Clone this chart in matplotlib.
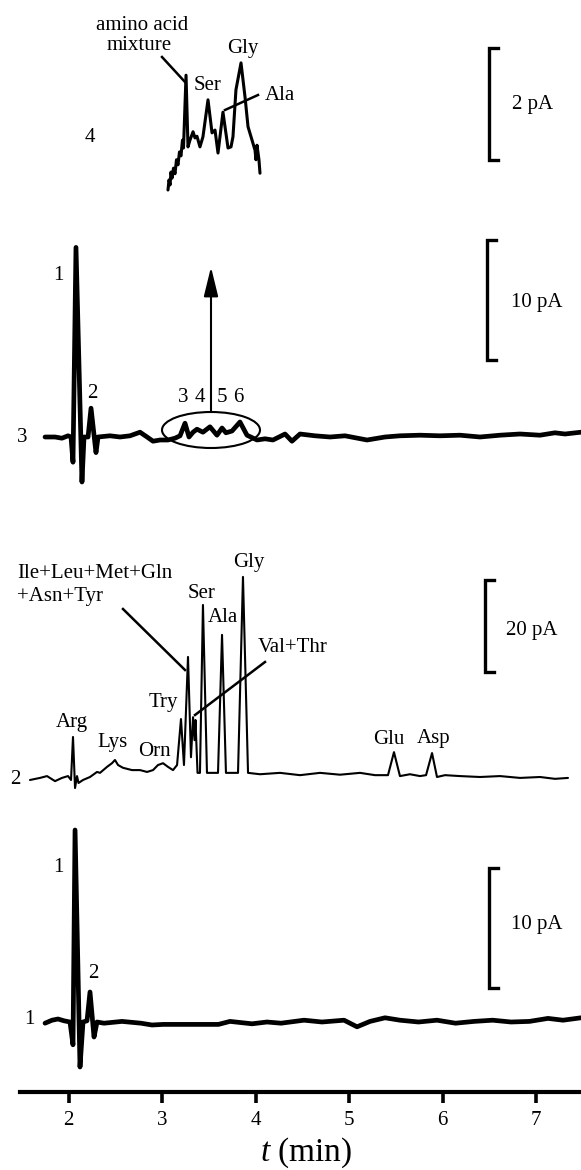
import matplotlib
matplotlib.use("Agg")
import matplotlib.pyplot as plt
from matplotlib.patches import Ellipse
import numpy as np

plt.rcParams['font.family'] = ['Liberation Serif', 'DejaVu Serif']
plt.rcParams['mathtext.fontset'] = 'custom'
plt.rcParams['mathtext.rm'] = 'Liberation Serif'
plt.rcParams['mathtext.it'] = 'Liberation Serif:italic'

# ---------------- data (time in min, current in pA) ----------------
trace1_t = [1.749, 1.824, 1.888, 1.952, 2.016, 2.048, 2.070, 2.123, 2.155, 2.198, 2.230,
            2.273, 2.305, 2.380, 2.572, 2.775, 2.893, 3.011, 3.604, 3.727, 3.963, 4.123,
            4.273, 4.519, 4.711, 4.947, 5.086, 5.225, 5.385, 5.545, 5.743, 5.941, 6.139,
            6.337, 6.536, 6.733, 6.930, 7.128, 7.289, 7.481]
trace1_i = [-0.1, 0.15, 0.25, 0.1, 0.0, -1.9, 16.0, -3.75, 0.0, 0.1, 2.5,
            -1.25, 0.0, -0.1, 0.05, -0.1, -0.25, -0.2, -0.2, 0.05, -0.15, 0.0,
            -0.1, 0.15, 0.0, 0.15, -0.4, 0.05, 0.35, 0.15, 0.0, 0.15, -0.1,
            0.05, 0.15, 0.0, 0.05, 0.3, 0.15, 0.35]

trace2_t = [1.588, 1.695, 1.770, 1.856, 1.930, 1.995, 2.027, 2.048, 2.070, 2.091, 2.107,
            2.155, 2.230, 2.305, 2.337, 2.412, 2.465, 2.497, 2.530, 2.583, 2.679, 2.765,
            2.840, 2.904, 2.957, 3.011, 3.064, 3.118, 3.161, 3.203, 3.235, 3.278, 3.310,
            3.332, 3.348, 3.358, 3.380, 3.406, 3.438, 3.481, 3.599, 3.642, 3.684, 3.813,
            3.866, 3.920, 4.048, 4.262, 4.476, 4.690, 4.904, 5.118, 5.278, 5.417, 5.481,
            5.545, 5.652, 5.759, 5.824, 5.888, 5.941, 6.027, 6.187, 6.401, 6.615, 6.829,
            7.043, 7.203, 7.342]
trace2_i = [-0.65, -0.2, 0.2, -0.9, -0.2, 0.2, -0.65, 8.7, -2.4, 0.2, -1.3,
            -0.65, 0.0, 1.1, 0.9, 2.2, 3.0, 3.7, 2.6, 2.0, 1.5, 1.5,
            1.1, 1.5, 2.6, 3.0, 2.2, 1.5, 2.6, 12.6, 2.6, 26.1, 4.3,
            13.0, 8.0, 12.4, 0.9, 0.9, 37.4, 0.9, 0.9, 30.9, 0.9, 0.9,
            43.5, 0.9, 0.6, 0.9, 0.4, 0.9, 0.5, 0.9, 0.4, 0.4, 5.4,
            0.2, 0.6, 0.2, 0.4, 5.2, 0.0, 0.4, 0.2, 0.0, 0.2, -0.2,
            0.0, -0.4, -0.2]

trace3_t = [1.749, 1.856, 1.930, 1.995, 2.027, 2.048, 2.080, 2.144, 2.166, 2.209, 2.241,
            2.294, 2.316, 2.444, 2.551, 2.658, 2.765, 2.840, 2.904, 2.979, 3.064, 3.139,
            3.193, 3.246, 3.289, 3.332, 3.374, 3.438, 3.513, 3.588, 3.642, 3.684, 3.749,
            3.834, 3.909, 4.016, 4.102, 4.187, 4.316, 4.390, 4.476, 4.636, 4.797, 4.957,
            5.193, 5.385, 5.545, 5.759, 5.973, 6.187, 6.401, 6.615, 6.829, 7.043, 7.203,
            7.310, 7.481]
trace3_i = [0.0, 0.0, -0.1, 0.1, 0.0, -2.1, 15.8, -3.75, 0.0, 0.0, 2.4,
            -1.3, 0.0, 0.1, 0.0, 0.1, 0.4, 0.0, -0.35, -0.25, -0.25, -0.1,
            0.1, 1.15, 0.0, 0.4, 0.65, 0.4, 0.85, 0.15, 0.75, 0.35, 0.5,
            1.25, 0.15, -0.25, -0.15, -0.25, 0.25, -0.35, 0.25, 0.1, 0.0, 0.1,
            -0.25, 0.0, 0.1, 0.15, 0.1, 0.15, 0.0, 0.15, 0.25, 0.15, 0.35,
            0.25, 0.4]

trace4_t = [3.064, 3.075, 3.086, 3.096, 3.107, 3.123, 3.139, 3.155, 3.171, 3.187, 3.203,
            3.219, 3.230, 3.257, 3.278, 3.299, 3.332, 3.353, 3.374, 3.406, 3.438, 3.492,
            3.535, 3.567, 3.599, 3.652, 3.706, 3.738, 3.759, 3.791, 3.845, 3.888, 3.920,
            3.963, 3.995, 4.005, 4.016, 4.037, 4.048]
trace4_i = [0.0, 0.18, 0.09, 0.32, 0.21, 0.39, 0.29, 0.54, 0.45, 0.68, 0.61,
            0.89, 0.75, 2.05, 0.77, 0.89, 1.04, 0.93, 0.96, 0.77, 0.95, 1.61,
            1.02, 1.07, 0.66, 1.39, 0.75, 0.77, 0.95, 1.79, 2.27, 1.66, 1.13,
            0.89, 0.71, 0.54, 0.80, 0.54, 0.30]

trace_names = ['1', '2', '3', '4']
scale_bar_pA = [10, 20, 10, 2]
x_ticks = [2, 3, 4, 5, 6, 7]

# ---------------- layout ----------------
W, H = 581, 1170
AX_BOTTOM = 1092


def px2t(px):
    return 2 + (px - 68.5) / 93.5


fig = plt.figure(figsize=(W / 100, H / 100), dpi=100)
ax = fig.add_axes([20 / W, (H - AX_BOTTOM) / H, (W - 20) / W, AX_BOTTOM / H])
ax.set_xlim(px2t(20), px2t(581))
ax.set_ylim(AX_BOTTOM, 0)
for s in ['left', 'right', 'top']:
    ax.spines[s].set_visible(False)
ax.spines['bottom'].set_linewidth(3.0)
ax.set_yticks([])
ax.set_xticks(x_ticks)
ax.set_xticklabels([str(v) for v in x_ticks])
ax.tick_params(axis='x', direction='out', length=8, width=2.6, labelsize=15, pad=6)

traces = [(trace1_t, trace1_i, 1022, 12.0, 3.4),
          (trace2_t, trace2_i, 777, 4.6, 1.5),
          (trace3_t, trace3_i, 437, 12.0, 3.4),
          (trace4_t, trace4_i, 190, 56.0, 2.2)]
for t, i, base, sc, lw in traces:
    ax.plot(t, base - sc * np.asarray(i), color='k', lw=lw,
            solid_joinstyle='round', solid_capstyle='round')

# scale bars
bars = [(489, 868), (485, 580), (487, 240), (489, 48)]
bar_label_pos = [(537, 925), (532, 630), (537, 303), (533, 105)]
for (bx, top), (lx, ly), val, (_, _, _, sc, _) in zip(bars, bar_label_pos, scale_bar_pA, traces):
    bot = top + val * sc
    ax.plot([px2t(bx + 9), px2t(bx), px2t(bx), px2t(bx + 9)], [top, top, bot, bot],
            color='k', lw=2.4, solid_joinstyle='miter')
    ax.text(px2t(lx), ly, f'{val} pA', ha='center', va='center', fontsize=15)

FS = 15
# trace numbers
for name, (x, y) in zip(trace_names, [(29, 1020), (15, 780), (22, 437), (90, 137)]):
    ax.text(px2t(x), y, name, ha='center', va='center', fontsize=FS)

# peak labels traces 1 & 3
for x, y, s in [(58, 867, '1'), (93, 973, '2'), (58, 275, '1'), (92, 393, '2'),
                (183, 397, '3'), (200, 397, '4'), (222, 397, '5'), (238, 397, '6')]:
    ax.text(px2t(x), y, s, ha='center', va='center', fontsize=FS)

# ellipse and arrow
ax.add_patch(Ellipse((px2t(211), 430), width=98 / 93.5, height=36, fill=False, lw=1.5, color='k'))
ax.annotate('', xy=(px2t(211), 267), xytext=(px2t(211), 412),
            arrowprops=dict(arrowstyle='-|>,head_length=0.9,head_width=0.22', lw=1.5,
                            color='k', mutation_scale=20, shrinkA=0, shrinkB=0))

# trace 2 labels
for x, y, s in [(72, 722, 'Arg'), (113, 743, 'Lys'), (154, 752, 'Orn'), (163, 703, 'Try'),
                (202, 593, 'Ser'), (223, 618, 'Ala'), (249, 563, 'Gly'),
                (389, 740, 'Glu'), (434, 738, 'Asp')]:
    ax.text(px2t(x), y, s, ha='center', va='center', fontsize=FS)
ax.text(px2t(17), 573, 'Ile+Leu+Met+Gln', ha='left', va='center', fontsize=FS)
ax.text(px2t(17), 596, '+Asn+Tyr', ha='left', va='center', fontsize=FS)
ax.text(px2t(258), 647, 'Val+Thr', ha='left', va='center', fontsize=FS)
ax.plot([px2t(123), px2t(185)], [609, 670], color='k', lw=1.8)
ax.plot([px2t(265), px2t(195)], [662, 715], color='k', lw=1.8)

# trace 4 labels
ax.text(px2t(142), 25, 'amino acid', ha='center', va='center', fontsize=FS)
ax.text(px2t(139), 45, 'mixture', ha='center', va='center', fontsize=FS)
ax.text(px2t(208), 85, 'Ser', ha='center', va='center', fontsize=FS)
ax.text(px2t(243), 49, 'Gly', ha='center', va='center', fontsize=FS)
ax.text(px2t(280), 95, 'Ala', ha='center', va='center', fontsize=FS)
ax.plot([px2t(162), px2t(185)], [57, 82], color='k', lw=1.8)
ax.plot([px2t(258), px2t(225)], [95, 110], color='k', lw=1.8)

fig.text(306 / W, 1 - 1153 / H, '$t$ (min)', ha='center', va='center', fontsize=24)

fig.savefig('out.png', dpi=100)
